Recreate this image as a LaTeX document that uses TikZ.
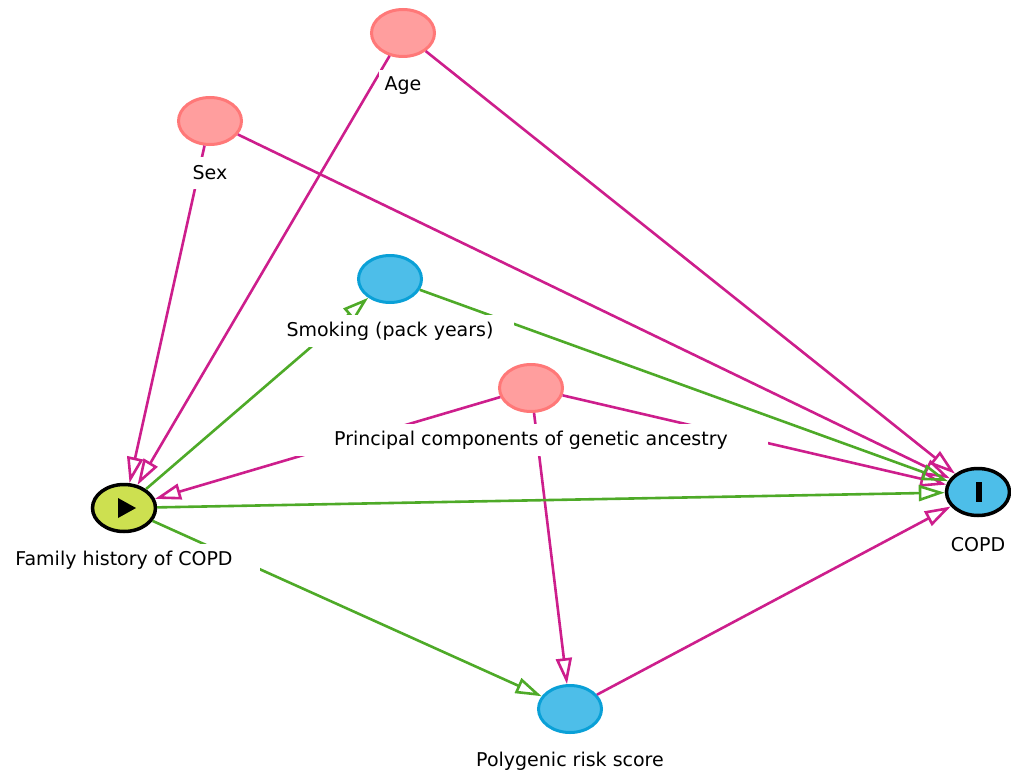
\documentclass[tikz,border=0pt]{standalone}
\usepackage{fontspec}
\setmainfont{DejaVu Sans}
\usetikzlibrary{shapes.geometric,arrows.meta}
\definecolor{mag}{RGB}{205,30,140}
\definecolor{grn}{RGB}{78,170,40}
\definecolor{pinkfill}{RGB}{255,158,158}
\definecolor{pinkline}{RGB}{255,120,120}
\definecolor{bluefill}{RGB}{77,190,233}
\definecolor{blueline}{RGB}{10,160,215}
\definecolor{expfill}{RGB}{205,224,80}
\begin{document}
\begin{tikzpicture}[x=1pt,y=-1pt,
  var/.style={ellipse, minimum width=63pt, minimum height=47pt, inner sep=0pt, line width=3pt},
  adj/.style={var, fill=pinkfill, draw=pinkline},
  anc/.style={var, fill=bluefill, draw=blueline},
  expo/.style={var, fill=expfill, draw=black, line width=3.5pt},
  outc/.style={var, fill=bluefill, draw=black, line width=3.5pt},
  lab/.style={fill=white, inner sep=0pt, minimum height=32pt, font=\fontsize{19}{21}\selectfont},
  biasing/.style={draw=mag, line width=2.6pt, -{Triangle[open,length=26pt,width=16pt]}},
  causal/.style={draw=grn, line width=2.6pt, -{Triangle[open,length=26pt,width=16pt]}}]
\useasboundingbox (0,0) rectangle (1011,773);
% variables
\node[adj]  (age) at (403,33) {};
\node[adj]  (sex) at (210,121) {};
\node[anc]  (smk) at (390,279) {};
\node[adj]  (pc)  at (531,388) {};
\node[expo] (fh)  at (124,508) {};
\node[outc] (copd) at (978,492) {};
\node[anc]  (prs) at (570,709) {};
% icons
\fill[black] (118,498) -- (118,518) -- (136,508) -- cycle;
\fill[black] (976,482) rectangle (982,502);
% edges
\draw[biasing] (age) -- (fh);
\draw[biasing] (age) -- (copd);
\draw[biasing] (sex) -- (fh);
\draw[biasing] (sex) -- (copd);
\draw[biasing] (pc) -- (fh);
\draw[biasing] (pc) -- (copd);
\draw[biasing] (pc) -- (prs);
\draw[biasing] (prs) -- (copd);
\draw[causal] (fh) -- (smk);
\draw[causal] (smk) -- (copd);
\draw[causal] (fh) -- (copd);
\draw[causal] (fh) -- (prs);
% labels
\node[lab, minimum width=49pt]  (agel)  at (403,86)  {Age};
\node[lab, minimum width=49pt]  (sexl)  at (210,173) {Sex};
\node[lab, minimum width=248pt] (smkl)  at (390,331) {Smoking (pack years)};
\node[lab, minimum width=474pt] (pcl)   at (531,440) {Principal components of genetic ancestry};
\node[lab, minimum width=271pt] (fhl)   at (124,560) {Family history of COPD};
\node[lab, minimum width=61pt]  (copdl) at (978,545) {COPD};
\node[lab, minimum width=248pt] (prsl)  at (570,761) {Polygenic risk score};
\end{tikzpicture}
\end{document}
